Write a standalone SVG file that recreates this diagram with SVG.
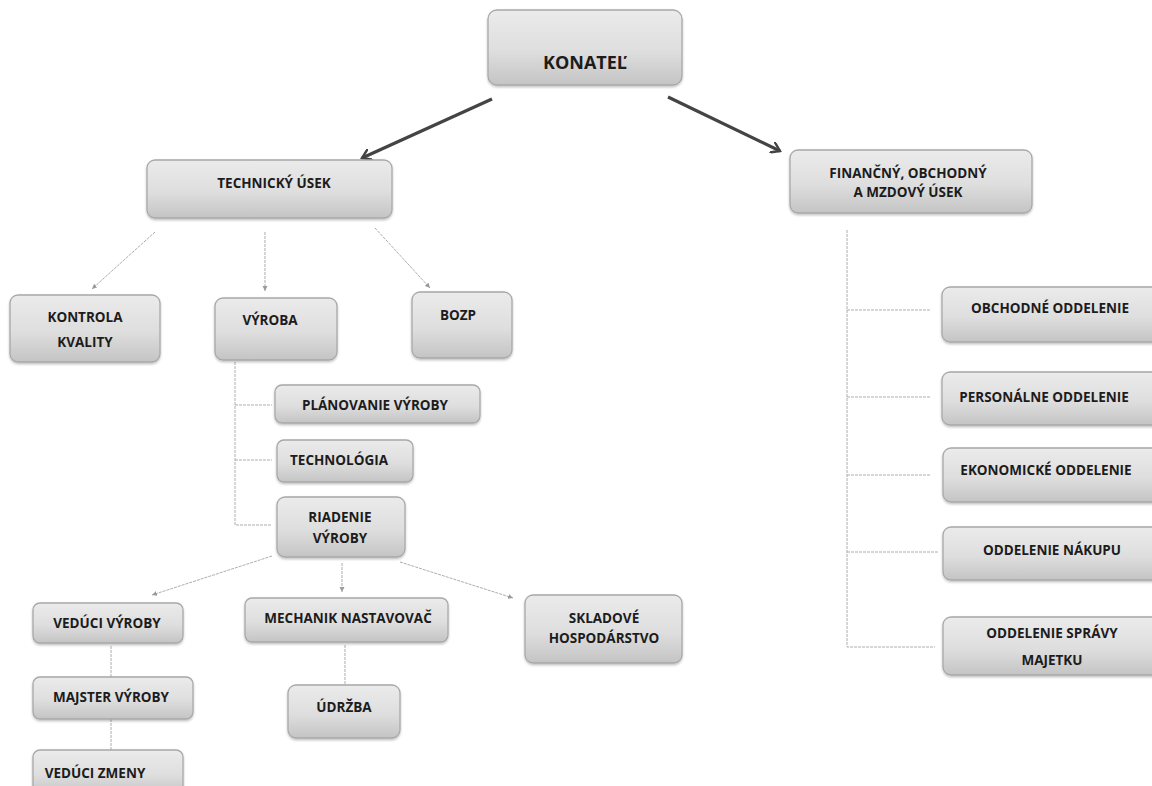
<svg xmlns="http://www.w3.org/2000/svg" width="1152" height="786" viewBox="0 0 1152 786">
<style>
.box{fill:url(#g);stroke:#a8a8a8;stroke-width:1.3;filter:url(#sh)}
.t{font-family:"Open Sans","Liberation Sans",sans-serif;font-weight:bold;font-size:13.5px;fill:#1c1c1c;text-anchor:middle}
.big{font-size:18px}
.thin{stroke:#adadad;stroke-width:1;fill:none;stroke-dasharray:3 1}
.thick{stroke:#444;stroke-width:3.2;fill:none}
</style>
<defs>
<linearGradient id="g" x1="0" y1="0" x2="0" y2="1">
<stop offset="0" stop-color="#ebebeb"/>
<stop offset="0.55" stop-color="#dedede"/>
<stop offset="1" stop-color="#c4c4c4"/>
</linearGradient>
<filter id="sh" x="-5%" y="-10%" width="110%" height="125%">
<feDropShadow dx="0" dy="1.5" stdDeviation="1.2" flood-color="#000" flood-opacity="0.25"/>
</filter>
<marker id="ah" markerWidth="12" markerHeight="12" refX="9" refY="6" orient="auto" markerUnits="userSpaceOnUse" viewBox="0 0 12 12">
<path d="M0,0 L9,6 L0,12" fill="none" stroke="#444" stroke-width="2.4"/>
</marker>
<marker id="sa" markerWidth="6" markerHeight="6" refX="5" refY="3" orient="auto" markerUnits="userSpaceOnUse">
<path d="M0,0.5 L5,3 L0,5.5 Z" fill="#9a9a9a"/>
</marker>
</defs>
<g id="connectors">
<line class="thick" x1="492" y1="99" x2="362" y2="158" marker-end="url(#ah)"/>
<line class="thick" x1="668" y1="97" x2="780" y2="151" marker-end="url(#ah)"/>
<line class="thin" x1="155" y1="232" x2="92" y2="289" marker-end="url(#sa)"/>
<line class="thin" x1="265" y1="232" x2="265" y2="291" marker-end="url(#sa)"/>
<line class="thin" x1="375" y1="228" x2="430" y2="288" marker-end="url(#sa)"/>
<path class="thin" d="M235,362 V525 H272 M235,405 H272 M235,460 H272"/>
<line class="thin" x1="272" y1="556" x2="152" y2="595" marker-end="url(#sa)"/>
<line class="thin" x1="342" y1="563" x2="342" y2="592" marker-end="url(#sa)"/>
<line class="thin" x1="400" y1="562" x2="513" y2="598" marker-end="url(#sa)"/>
<line class="thin" x1="111" y1="646" x2="111" y2="677"/>
<line class="thin" x1="111" y1="719" x2="111" y2="750"/>
<line class="thin" x1="345" y1="645" x2="345" y2="684"/>
<path class="thin" d="M847,230 V647 H935 M847,310 H930 M847,397 H930 M847,475 H930 M847,552 H938"/>
</g>
<g id="konatel"><rect class="box" x="488" y="10" width="194" height="75" rx="9"/><text class="t big" x="585" y="69">KONATEĽ</text></g>
<g id="technicky"><rect class="box" x="147" y="160" width="245" height="58" rx="8"/><text class="t" x="274" y="188">TECHNICKÝ ÚSEK</text></g>
<g id="financny"><rect class="box" x="790" y="150" width="242" height="63" rx="8"/><text class="t" x="908" y="178">FINANČNÝ, OBCHODNÝ</text><text class="t" x="908" y="197">A MZDOVÝ ÚSEK</text></g>
<g id="kontrola"><rect class="box" x="10" y="295" width="150" height="67" rx="8"/><text class="t" x="85" y="322">KONTROLA</text><text class="t" x="85" y="347">KVALITY</text></g>
<g id="vyroba"><rect class="box" x="215" y="298" width="122" height="62" rx="8"/><text class="t" x="270" y="325">VÝROBA</text></g>
<g id="bozp"><rect class="box" x="412" y="292" width="100" height="66" rx="8"/><text class="t" x="458" y="320">BOZP</text></g>
<g id="planovanie"><rect class="box" x="275" y="385" width="205" height="38" rx="7"/><text class="t" x="375" y="410">PLÁNOVANIE VÝROBY</text></g>
<g id="technologia"><rect class="box" x="277" y="440" width="136" height="42" rx="7"/><text class="t" x="339" y="465">TECHNOLÓGIA</text></g>
<g id="riadenie"><rect class="box" x="277" y="497" width="128" height="60" rx="8"/><text class="t" x="340" y="522">RIADENIE</text><text class="t" x="340" y="543">VÝROBY</text></g>
<g id="veduci-vyroby"><rect class="box" x="33" y="603" width="150" height="40" rx="7"/><text class="t" x="107" y="628">VEDÚCI VÝROBY</text></g>
<g id="mechanik"><rect class="box" x="245" y="598" width="203" height="44" rx="7"/><text class="t" x="348" y="623">MECHANIK NASTAVOVAČ</text></g>
<g id="skladove"><rect class="box" x="525" y="595" width="157" height="68" rx="8"/><text class="t" x="604" y="623">SKLADOVÉ</text><text class="t" x="604" y="643">HOSPODÁRSTVO</text></g>
<g id="majster"><rect class="box" x="33" y="677" width="160" height="42" rx="7"/><text class="t" x="111" y="702">MAJSTER VÝROBY</text></g>
<g id="veduci-zmeny"><rect class="box" x="33" y="750" width="150" height="45" rx="7"/><text class="t" x="95" y="778">VEDÚCI ZMENY</text></g>
<g id="udrzba"><rect class="box" x="288" y="685" width="112" height="53" rx="8"/><text class="t" x="344" y="712">ÚDRŽBA</text></g>
<g id="obchodne"><rect class="box" x="942" y="287" width="220" height="55" rx="8"/><text class="t" x="1050" y="313">OBCHODNÉ ODDELENIE</text></g>
<g id="personalne"><rect class="box" x="942" y="372" width="220" height="53" rx="8"/><text class="t" x="1044" y="402">PERSONÁLNE ODDELENIE</text></g>
<g id="ekonomicke"><rect class="box" x="943" y="448" width="220" height="54" rx="8"/><text class="t" x="1046" y="475">EKONOMICKÉ ODDELENIE</text></g>
<g id="nakupu"><rect class="box" x="943" y="527" width="220" height="53" rx="8"/><text class="t" x="1052" y="555">ODDELENIE NÁKUPU</text></g>
<g id="spravy"><rect class="box" x="943" y="617" width="220" height="58" rx="8"/><text class="t" x="1052" y="638">ODDELENIE SPRÁVY</text><text class="t" x="1052" y="665">MAJETKU</text></g>
</svg>
